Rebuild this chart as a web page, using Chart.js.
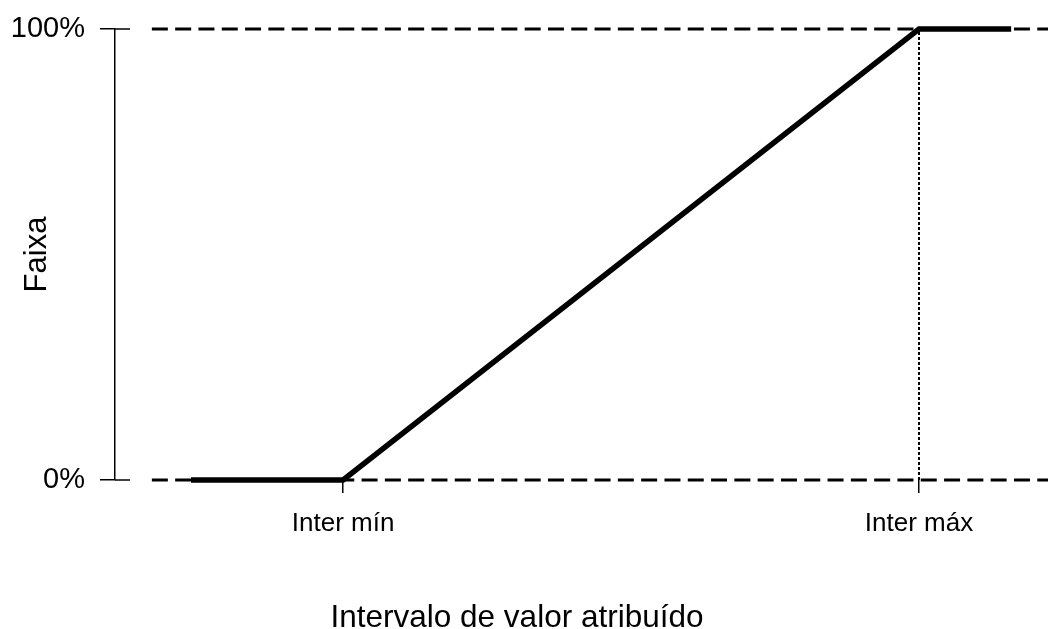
<!DOCTYPE html>
<html><head><meta charset="utf-8">
<script src="https://cdn.jsdelivr.net/npm/chart.js@4"></script>
<style>html,body{margin:0;padding:0;background:#fff}#wrap{width:1048px;height:629px;position:relative}</style>
</head><body><div id="wrap"><canvas id="c"></canvas></div>
<script>
// ---- data ----
const xTickValues = [0, 100];
const xTickLabels = ['Inter mín', 'Inter máx'];
const yTickValues = [0, 100];
const curveX = [-26.4, 0, 100, 116];
const curveY = [0, 0, 100, 100];
const refLevels = [0, 100];
const refXRange = [-33.2, 122.4];
const markerX = 100;
const markerYRange = [0, 100];
const xRange = [-39.6, 122.4];
const xTitle = 'Intervalo de valor atribuído';
const yTitle = 'Faixa';

const FONT = "'Liberation Sans', Arial, Helvetica, sans-serif";
Chart.defaults.color = '#000';
Chart.defaults.font.family = FONT;

const pts = (xs, ys) => xs.map((x, i) => ({x, y: ys[i]}));

const datasets = [
  { data: pts(curveX, curveY), borderColor: '#000', borderWidth: 5.4, borderCapStyle: 'butt', borderJoinStyle: 'miter' },
  ...refLevels.map(l => ({ data: pts(refXRange, [l, l]), borderColor: '#000', borderWidth: 3.2, borderDash: [16, 7.3], borderCapStyle: 'butt' })),
  { data: pts([markerX, markerX], markerYRange), borderColor: '#000', borderWidth: 2, borderDash: [3, 2], borderCapStyle: 'butt' }
].map(d => Object.assign({ showLine: true, pointRadius: 0, pointHoverRadius: 0, tension: 0, fill: false, clip: false }, d));

const decor = {
  id: 'decor',
  afterDraw(chart) {
    const s = chart.scales.y, ctx = chart.ctx;
    ctx.save(); ctx.strokeStyle = '#000'; ctx.lineWidth = 1.5;
    s.ticks.forEach(t => { const y = s.getPixelForValue(t.value); ctx.beginPath(); ctx.moveTo(s.right, y); ctx.lineTo(s.right + 15, y); ctx.stroke(); });
    // x axis title, centred on the page width
    ctx.fillStyle = '#000';
    ctx.font = '31.5px ' + FONT;
    ctx.textAlign = 'center';
    ctx.textBaseline = 'alphabetic';
    ctx.fillText(xTitle, chart.width / 2 - 7, chart.height - 2.5);
    ctx.restore();
  }
};

new Chart(document.getElementById('c'), {
  type: 'scatter',
  data: { datasets },
  plugins: [decor],
  options: {
    responsive: true, maintainAspectRatio: false, animation: false,
    layout: { padding: { top: 29, right: 0, bottom: 0, left: 0 } },
    plugins: { legend: { display: false }, tooltip: { enabled: false } },
    scales: {
      x: {
        type: 'linear', min: xRange[0], max: xRange[1],
        afterBuildTicks: s => { s.ticks = xTickValues.map(v => ({ value: v })); },
        afterFit: s => { s.height = 149; s.paddingLeft = 0; s.paddingRight = 0; },
        border: { display: false },
        grid: { drawOnChartArea: false, drawTicks: true, tickLength: 13, color: '#000', lineWidth: 1.5 },
        ticks: { color: '#000', font: { size: 26 }, padding: 15, maxRotation: 0, autoSkip: false,
          callback: (v) => { const i = xTickValues.indexOf(v); return i >= 0 ? xTickLabels[i] : ''; } }
      },
      y: {
        type: 'linear', min: 0, max: 100,
        afterBuildTicks: s => { s.ticks = yTickValues.map(v => ({ value: v })); },
        afterFit: s => { s.width = 115; s.paddingTop = 0; s.paddingBottom = 0; },
        border: { display: true, color: '#000', width: 1.5 },
        grid: { drawOnChartArea: false, drawTicks: true, tickLength: 15, color: '#000', lineWidth: 1.5 },
        ticks: { color: '#000', font: { size: 29 }, padding: 15, callback: v => v + '%' },
        title: { display: true, text: yTitle, color: '#000', font: { size: 31 }, padding: { top: 19, bottom: 0 } }
      }
    }
  }
});
</script>
</body></html>
